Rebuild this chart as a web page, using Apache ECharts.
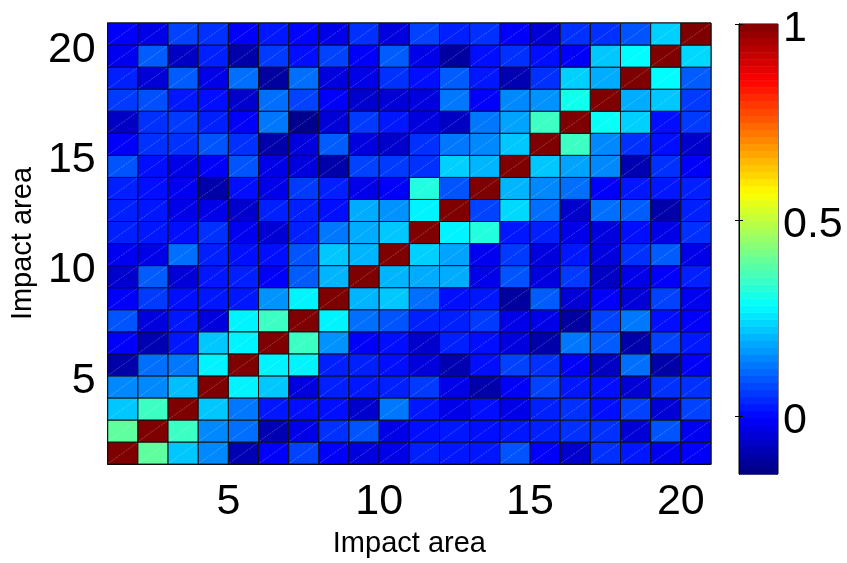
<!DOCTYPE html>
<html>
<head>
<meta charset="utf-8">
<title>Impact area correlation</title>
<script src="https://cdn.jsdelivr.net/npm/echarts@6/dist/echarts.min.js"></script>
<style>
  html, body { margin: 0; padding: 0; background: #fff; }
  #chart { width: 847px; height: 563px; }
</style>
</head>
<body>
<div id="chart"></div>
<script>
// Impact area indices (1..20) along both axes
const areaIds = [1, 2, 3, 4, 5, 6, 7, 8, 9, 10, 11, 12, 13, 14, 15, 16, 17, 18, 19, 20];
const areaTicks = [5, 10, 15, 20];

// Correlation between impact areas; each row is one y index (bottom to top), columns are x = 1..20
const row01 = [1, 0.39, 0.22, 0.15, -0.09, -0.01, 0.07, -0.01, -0.04, -0.03, 0.03, 0.02, 0.02, 0.09, -0.01, -0.06, 0.05, 0.02, -0.02, -0.01];
const row02 = [0.39, 1, 0.35, 0.15, 0.12, -0.09, -0.03, 0.05, 0.09, -0.03, 0.01, 0.02, 0.01, 0.02, 0.03, 0.05, 0.05, -0.05, 0.09, -0.02];
const row03 = [0.22, 0.35, 1, 0.22, 0.13, 0.02, 0.01, 0.01, -0.06, 0.13, 0.02, -0.03, 0.01, -0.03, 0.03, 0.05, 0.01, 0.07, -0.05, 0.07];
const row04 = [0.15, 0.15, 0.21, 1, 0.27, 0.22, -0.04, 0.03, 0.02, 0.03, 0.06, -0.03, -0.10, -0.01, 0.07, 0.02, 0.01, -0.05, 0.05, 0.05];
const row05 = [-0.10, 0.12, 0.13, 0.27, 1, 0.27, 0.27, 0.03, 0.03, 0.01, -0.04, -0.09, 0.01, 0.07, 0.05, -0.01, -0.07, 0.12, -0.10, -0.01];
const row06 = [-0.01, -0.09, 0.02, 0.22, 0.27, 1, 0.35, 0.16, -0.01, 0.01, -0.06, 0.03, 0.01, -0.04, -0.10, 0.13, 0.10, -0.10, 0.07, 0.02];
const row07 = [0.09, -0.04, 0.02, -0.04, 0.27, 0.35, 1, 0.27, 0.12, 0.09, 0.03, 0.03, 0.06, -0.03, -0.03, -0.11, 0.07, 0.13, 0.01, -0.01];
const row08 = [-0.01, 0.06, 0.01, 0.02, 0.02, 0.16, 0.27, 1, 0.20, 0.22, 0.12, 0.01, 0.02, -0.11, 0.10, -0.05, -0.01, -0.05, 0.07, -0.02];
const row09 = [-0.06, 0.10, -0.05, 0.02, 0.03, -0.01, 0.10, 0.20, 1, 0.20, 0.19, 0.19, -0.03, 0.09, -0.04, 0.06, -0.07, -0.03, -0.01, 0.03];
const row10 = [-0.02, -0.03, 0.12, 0.03, 0.01, 0.01, 0.09, 0.22, 0.20, 1, 0.23, 0.18, -0.02, 0.06, -0.04, 0.02, -0.04, 0.05, 0.10, -0.03];
const row11 = [0.03, 0.02, 0.01, 0.05, -0.02, -0.05, 0.03, 0.13, 0.19, 0.22, 1, 0.27, 0.32, 0.02, 0.03, -0.03, -0.04, 0.01, -0.03, 0.05];
const row12 = [0.03, 0.02, -0.03, -0.03, -0.06, 0.03, 0.03, 0.01, 0.19, 0.16, 0.27, 1, 0.07, 0.24, 0.12, -0.06, 0.12, 0.10, -0.10, 0.03];
const row13 = [0.03, 0.01, -0.02, -0.10, 0.01, -0.03, 0.06, 0.03, -0.03, -0.01, 0.32, 0.09, 1, 0.20, 0.15, 0.12, -0.01, 0.02, 0.02, 0.03];
const row14 = [0.09, 0.01, -0.03, -0.01, 0.09, -0.03, -0.04, -0.10, 0.07, 0.06, 0.05, 0.23, 0.20, 1, 0.22, 0.18, 0.15, -0.09, 0.05, -0.01];
const row15 = [-0.01, 0.05, 0.05, 0.09, 0.05, -0.10, -0.04, 0.10, -0.04, -0.06, 0.05, 0.13, 0.15, 0.22, 1, 0.35, 0.15, 0.05, 0.01, -0.06];
const row16 = [-0.07, 0.05, 0.06, 0.03, -0.01, 0.13, -0.13, -0.05, 0.06, 0.02, -0.04, -0.07, 0.13, 0.18, 0.35, 1, 0.29, 0.23, 0.01, 0.06];
const row17 = [0.06, 0.085, 0.02, 0.01, -0.06, 0.12, 0.07, -0.01, -0.06, -0.05, -0.04, 0.13, -0.01, 0.15, 0.16, 0.30, 1, 0.19, 0.22, 0.06];
const row18 = [0.03, -0.05, 0.10, -0.03, 0.12, -0.11, 0.12, -0.04, -0.03, 0.05, 0.01, 0.10, 0.02, -0.09, 0.05, 0.23, 0.19, 1, 0.28, 0.10];
const row19 = [-0.02, 0.10, -0.07, 0.03, -0.10, 0.06, 0.01, 0.07, -0.01, 0.10, -0.03, -0.11, 0.01, 0.05, 0.01, -0.01, 0.22, 0.28, 1, 0.24];
const row20 = [-0.01, -0.03, 0.07, 0.05, -0.01, 0.02, 0.00, -0.03, 0.05, -0.04, 0.07, 0.03, 0.05, -0.01, -0.05, 0.05, 0.05, 0.09, 0.23, 1];

// Colour scale limits and colour bar ticks
const colorMin = -0.148;
const colorMax = 1;
const colorTicks = [0, 0.5, 1];
const colorLevels = 64;

// Jet colour map
const jet = ['#00007F', '#0000FF', '#007FFF', '#00FFFF', '#7FFF7F', '#FFFF00', '#FF7F00', '#FF0000', '#7F0000'];

const rows = [row01, row02, row03, row04, row05, row06, row07, row08, row09, row10,
              row11, row12, row13, row14, row15, row16, row17, row18, row19, row20];

// Heat map cells: [x, y, value]
const cells = [];
rows.forEach((row, yi) => {
  row.forEach((v, xi) => {
    cells.push([areaIds[xi], areaIds[yi], v]);
  });
});

// Colour bar bands: [low, high, value]
const bands = [];
const step = (colorMax - colorMin) / colorLevels;
for (let k = 0; k < colorLevels; k++) {
  const lo = colorMin + k * step;
  const hi = lo + step;
  bands.push([lo, hi, (lo + hi) / 2]);
}

const fontFamily = '"Liberation Sans", Arial, Helvetica, sans-serif';

const chart = echarts.init(document.getElementById('chart'), null, { renderer: 'canvas' });

chart.setOption({
  animation: false,
  backgroundColor: '#ffffff',
  visualMap: {
    type: 'continuous',
    show: false,
    min: colorMin,
    max: colorMax,
    dimension: 2,
    seriesIndex: [0, 1],
    inRange: { color: jet }
  },
  grid: [
    { left: 105, top: 23, width: 606, height: 452, show: true, borderColor: '#000', borderWidth: 1, backgroundColor: 'transparent' },
    { left: 739, top: 24, width: 39, height: 450, show: true, borderColor: '#000', borderWidth: 1, backgroundColor: 'transparent' }
  ],
  xAxis: [
    {
      type: 'value', gridIndex: 0, min: 1, max: 21,
      name: 'Impact area', nameLocation: 'middle', nameGap: 50,
      nameTextStyle: { fontSize: 29, color: '#000', fontFamily },
      axisLine: { show: true, lineStyle: { color: '#000', width: 1 } },
      axisTick: { show: false },
      splitLine: { show: false },
      axisLabel: { customValues: areaTicks, fontSize: 43, color: '#000', fontFamily, margin: 17 }
    },
    { type: 'value', gridIndex: 1, min: 0, max: 1, show: false }
  ],
  yAxis: [
    {
      type: 'value', gridIndex: 0, min: 1, max: 21,
      name: 'Impact area', nameLocation: 'middle', nameGap: 70,
      nameTextStyle: { fontSize: 29, color: '#000', fontFamily },
      axisLine: { show: true, lineStyle: { color: '#000', width: 1 } },
      axisTick: { show: false },
      splitLine: { show: false },
      axisLabel: {
        customValues: areaTicks, fontSize: 43, color: '#000', fontFamily, margin: 12,
        verticalAlign: 'top', lineHeight: 10
      }
    },
    {
      type: 'value', gridIndex: 1, min: colorMin, max: colorMax, position: 'right', z: 10,
      axisLine: { show: true, lineStyle: { color: '#000', width: 1 } },
      axisTick: { show: true, inside: true, length: 4, customValues: colorTicks, lineStyle: { color: '#000' } },
      splitLine: { show: false },
      axisLabel: {
        customValues: colorTicks, fontSize: 43, color: '#000', fontFamily, margin: 5,
        verticalAlign: 'top', lineHeight: 10,
        formatter: v => String(v)
      }
    },
    {
      type: 'value', gridIndex: 1, min: colorMin, max: colorMax, position: 'left', z: 10,
      axisLine: { show: true, lineStyle: { color: '#000', width: 1 } },
      axisTick: { show: true, inside: true, length: 4, customValues: colorTicks, lineStyle: { color: '#000' } },
      axisLabel: { show: false },
      splitLine: { show: false }
    }
  ],
  series: [
    {
      type: 'custom',
      name: 'correlation',
      xAxisIndex: 0,
      yAxisIndex: 0,
      data: cells,
      renderItem: function (params, api) {
        const x = api.value(0);
        const y = api.value(1);
        const tl = api.coord([x, y + 1]);
        const br = api.coord([x + 1, y]);
        return {
          type: 'group',
          children: [
            {
              type: 'rect',
              shape: { x: tl[0], y: tl[1], width: br[0] - tl[0], height: br[1] - tl[1] },
              style: { fill: api.visual('color'), stroke: '#111', lineWidth: 1 }
            },
            {
              type: 'line',
              shape: { x1: tl[0] + 1, y1: br[1] - 1, x2: br[0] - 1, y2: tl[1] + 1 },
              style: { stroke: 'rgba(255,255,255,0.35)', lineWidth: 0.7, lineDash: [2, 1] }
            }
          ]
        };
      }
    },
    {
      type: 'custom',
      name: 'colorbar',
      xAxisIndex: 1,
      yAxisIndex: 1,
      data: bands,
      z: 1,
      renderItem: function (params, api) {
        const top = api.coord([0, api.value(1)]);
        const bottom = api.coord([1, api.value(0)]);
        return {
          type: 'rect',
          shape: { x: top[0], y: top[1], width: bottom[0] - top[0], height: bottom[1] - top[1] + 0.5 },
          style: { fill: api.visual('color') }
        };
      }
    }
  ]
});
</script>
</body>
</html>
